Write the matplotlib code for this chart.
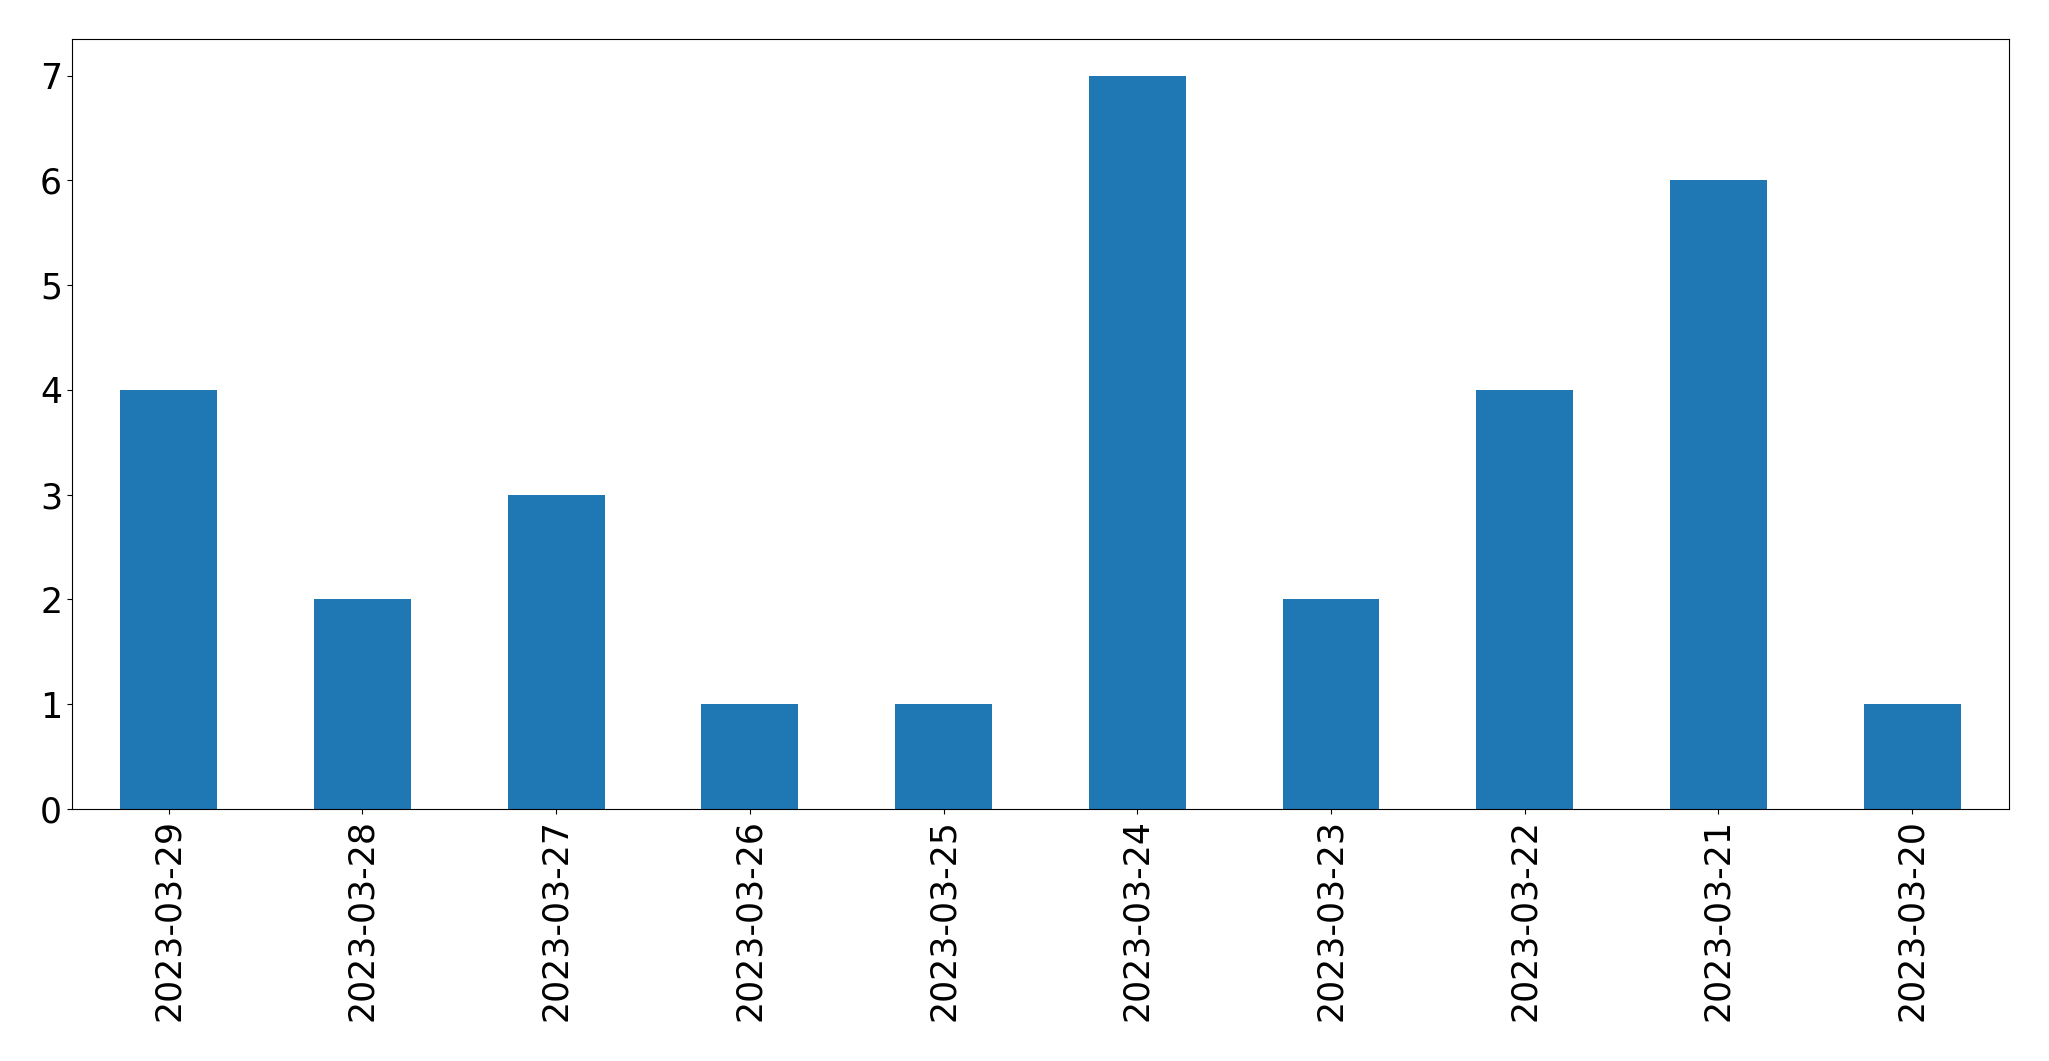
import matplotlib
matplotlib.use('Agg')
import matplotlib.pyplot as plt
import numpy as np

# Datos: recuento por fecha
fechas = ['2023-03-29', '2023-03-28', '2023-03-27', '2023-03-26', '2023-03-25',
          '2023-03-24', '2023-03-23', '2023-03-22', '2023-03-21', '2023-03-20']
conteos = [4, 2, 3, 1, 1, 7, 2, 4, 6, 1]

fig = plt.figure(figsize=(20.49, 10.61), dpi=100)
ax = fig.add_axes([0.0351, 0.2375, 0.9454, 0.7257])

x = np.arange(len(fechas))
ax.bar(x, conteos, width=0.5, color='#1f77b4')

ax.set_xticks(x)
ax.set_xticklabels(fechas, rotation=90)
ax.set_xlim(-0.5, len(fechas) - 0.5)
ax.set_ylim(0, 7.35)
ax.tick_params(axis='both', labelsize=25)

plt.savefig('out.png', dpi=100)
plt.close(fig)
